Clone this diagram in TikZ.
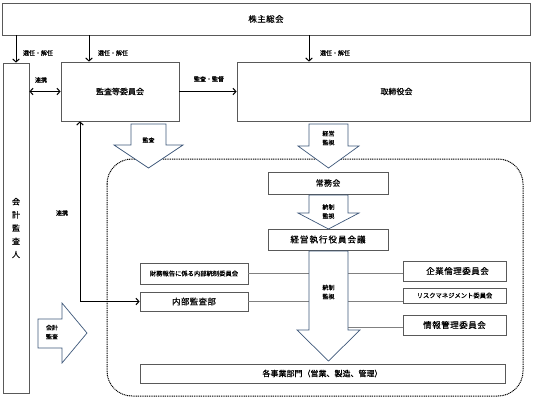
\documentclass[tikz,border=0pt]{standalone}
\usepackage{fontspec}
\setmainfont{Noto Sans CJK JP}[FakeBold=0.6]
\usetikzlibrary{arrows.meta}
\definecolor{bluegray}{RGB}{62,88,122}
\newcommand{\myls}[1]{\addfontfeature{LetterSpace=#1}}
\tikzset{
  box/.style={draw=black!65, line width=0.7pt, fill=white, inner sep=0pt, anchor=center},
  arr/.style={-{Straight Barb[length=3pt,width=6.5pt]}, line width=1pt},
  darr/.style={{Straight Barb[length=3pt,width=6.5pt]}-{Straight Barb[length=3pt,width=6.5pt]}, line width=1pt},
  blk/.style={draw=bluegray, fill=white, line width=0.7pt, line join=miter},
  lbl/.style={font=\fontsize{6}{9}\selectfont, inner sep=0pt, align=center},
  big/.style={font=\fontsize{8}{9}\selectfont},
  thin/.style={draw=black!50, line width=0.6pt}
}
\begin{document}
\begin{tikzpicture}[x=1pt,y=-1pt]
\useasboundingbox (0,0) rectangle (533,399);

% dotted region
\draw[dash pattern=on 1pt off 0.8pt, line width=1pt, rounded corners=25pt] (107,159) rectangle (523,396);

% boxes
\node[box, minimum width=528, minimum height=32, font=\fontsize{8.5}{9}\selectfont\myls{5}] (soukai) at (266,19) {株主総会};
\node[box, minimum width=26, minimum height=330, align=center, font=\fontsize{8}{13.2}\selectfont] (kaikei) at (16,228) {会\\計\\監\\査\\人};
\node[box, big, minimum width=118, minimum height=59] (kansa) at (120,91.5) {監査等委員会};
\node[box, big, minimum width=293, minimum height=59] (tori) at (383.5,91.5) {\hspace*{26pt}取締役会};
\node[box, minimum width=120, minimum height=22, font=\fontsize{8}{9}\selectfont\myls{4}] (joumu) at (328,183) {常務会};
\node[box, minimum width=120, minimum height=21, font=\fontsize{8.5}{9}\selectfont\myls{12}] (keiei) at (328,239.5) {経営執行役員会議};
\node[box, minimum width=108, minimum height=21, font=\fontsize{6.3}{7}\selectfont] (fin) at (194,273.5) {財務報告に係る内部統制委員会};
\node[box, minimum width=108, minimum height=19, font=\fontsize{8.5}{9}\selectfont\myls{4}] (naibu) at (194,301.5) {内部監査部};
\node[box, minimum width=103, minimum height=20, font=\fontsize{8.5}{9}\selectfont\myls{6}] (rinri) at (454.5,271) {\hspace*{6pt}企業倫理委員会};
\node[box, minimum width=103, minimum height=15, font=\fontsize{6.3}{7}\selectfont] (risk) at (454.5,295.5) {リスクマネジメント委員会};
\node[box, minimum width=103, minimum height=20, font=\fontsize{8.5}{9}\selectfont\myls{6}] (jouhou) at (454.5,325) {情報管理委員会};
\node[box, big, minimum width=365, minimum height=19] (jigyou) at (322.5,373.5) {各事業部門（営業、製造、管理）};

% election arrows
\coordinate (e2) at (89,0);
\coordinate (e3) at (309,0);
\draw[arr] (soukai.south -| kaikei.north) -- (kaikei.north);
\draw[arr] (e2 |- soukai.south) -- (e2 |- kansa.north);
\draw[arr] (e3 |- soukai.south) -- (e3 |- tori.north);
\node[lbl] (l1) at (38,53) {選任・解任};
\node[lbl] (l2) at (113,53) {選任・解任};
\node[lbl] (l3) at (335,53) {選任・解任};

% renkei horizontal
\draw[darr] (kaikei.east |- kansa.west) -- (kansa.west);
\node[lbl] (l4) at (41,80) {連携};
% kansa -> torishimari
\draw[arr] (kansa.east) -- (tori.west);
\node[lbl] (l5) at (209,79) {監査・監督};

% renkei vertical
\coordinate (r1) at (80,0);
\draw[darr] (r1 |- kansa.south) -- (r1 |- naibu.west) -- (naibu.west);
\node[lbl] (l6) at (62,213) {連携};

% thin connectors to shaft
\coordinate (sl) at (309,0);
\coordinate (sr) at (348,0);
\draw[thin] (fin.east) -- (sl |- fin.east);
\draw[thin] (naibu.east) -- (sl |- naibu.east);
\draw[thin] (sr |- 0,273) -- (rinri.west |- 0,273);
\draw[thin] (sr |- 0,301) -- (risk.west |- 0,301);
\draw[thin] (sr |- 0,327) -- (jouhou.west |- 0,327);

% block arrows
\draw[blk] (131,124) -- (166,124) -- (166,145) -- (183,145) -- (148.5,168) -- (114,145) -- (131,145) -- cycle;
\node[lbl] (b1) at (148.5,140) {監査};
\draw[blk] (309,124) -- (348,124) -- (348,146) -- (359,146) -- (328.5,168) -- (298,146) -- (309,146) -- cycle;
\node[lbl] (b2) at (328.5,138) {経営\\監視};
\draw[blk] (309,195) -- (348,195) -- (348,213) -- (359,213) -- (328.5,229) -- (298,213) -- (309,213) -- cycle;
\node[lbl] (b3) at (328.5,211.5) {統制\\監視};
\draw[blk] (309,251) -- (348,251) -- (348,330) -- (360,330) -- (328.5,361) -- (297,330) -- (309,330) -- cycle;
\node[lbl] (b4) at (328.5,292) {統制\\監視};
\draw[blk] (38,319) -- (62,319) -- (62,303) -- (87,333) -- (62,363) -- (62,348) -- (38,348) -- cycle;
\node[lbl] (b5) at (52,332) {会計\\監査};
\end{tikzpicture}
\end{document}
